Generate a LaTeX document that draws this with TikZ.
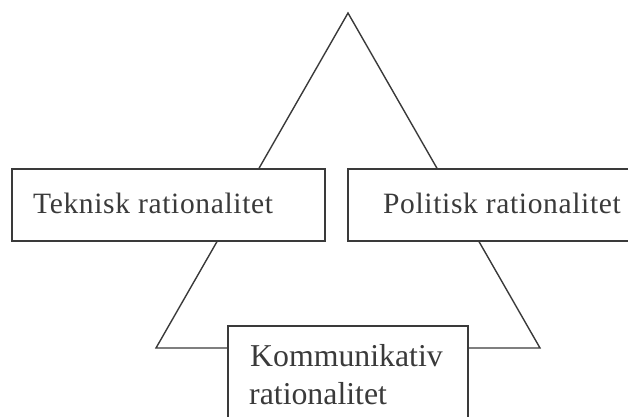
\documentclass[tikz,border=0pt]{standalone}
\usepackage{fontspec}
\setmainfont{Liberation Serif}
\newfontfamily\spacedserif[LetterSpace=2.2]{Liberation Serif}
\definecolor{ink}{HTML}{3A3A3A}
\begin{document}
\begin{tikzpicture}[x=1pt,y=-1pt,
  edge/.style={draw=ink,line width=1.4pt,line join=miter},
  box/.style={draw=ink,line width=1.6pt,fill=white,rectangle,inner sep=0pt},
  lbl/.style={text=ink,inner sep=0pt,anchor=base west,font=\spacedserif\fontsize{29.5}{34}\selectfont},
  lblbig/.style={text=ink,inner sep=0pt,anchor=base west,font=\fontsize{31.8}{38}\selectfont}]
  \useasboundingbox (0,0) rectangle (628,416);
  \clip (0,0) rectangle (628,416);
  % triangle
  \coordinate (apex) at (348,13);
  \coordinate (bl) at (156,348);
  \coordinate (br) at (540,348);
  \draw[edge] (bl) -- (apex) -- (br) -- cycle;
  % boxes
  \node[box,minimum width=313,minimum height=72] (tek) at (168.5,205) {};
  \node[box,minimum width=292,minimum height=72] (pol) at (494,205) {};
  \node[box,minimum width=240,minimum height=110] (kom) at (348,381) {};
  % labels
  \node[lbl] (tekT) at (33,213) {Teknisk rationalitet};
  \node[lbl] (polT) at (383,213) {Politisk rationalitet};
  \node[lblbig] (komT1) at (250,366) {Kommunikativ};
  \node[lblbig] (komT2) at (249,404) {rationalitet};
\end{tikzpicture}
\end{document}
